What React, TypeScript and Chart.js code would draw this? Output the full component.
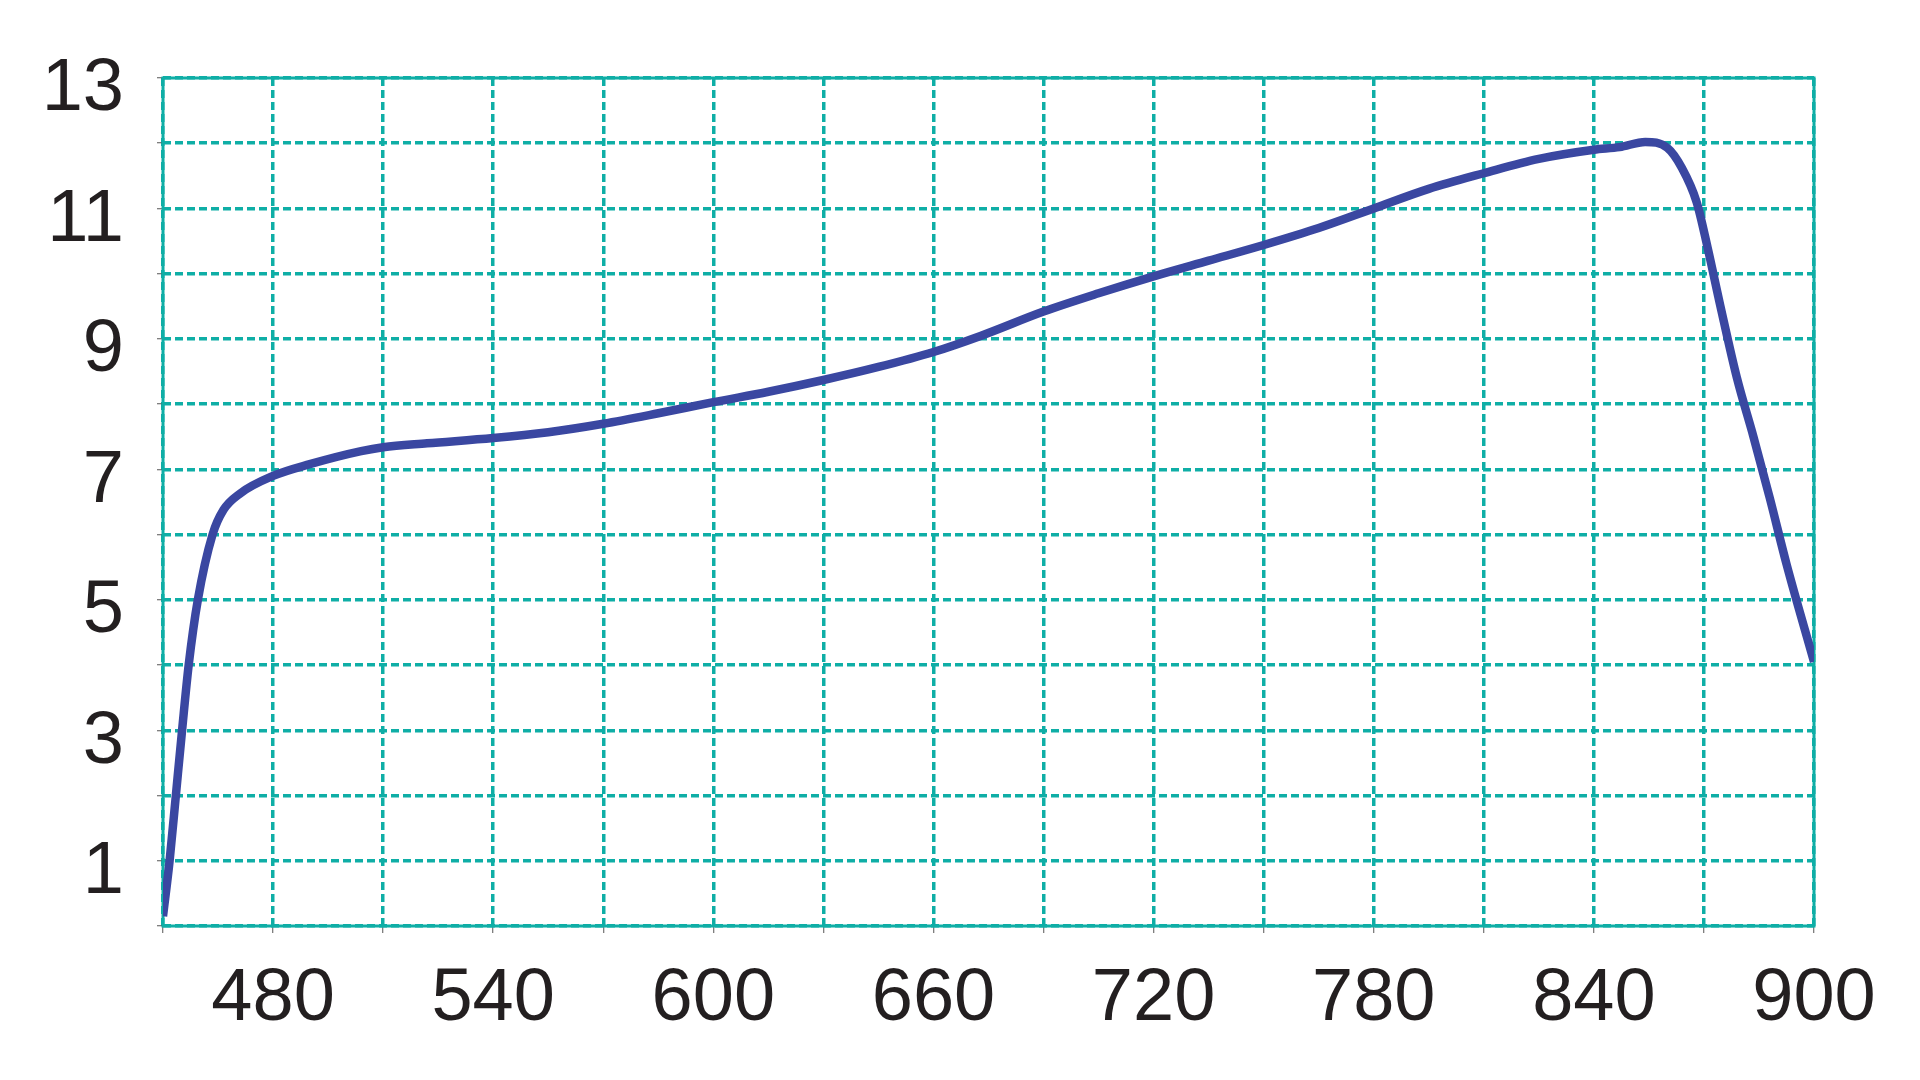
import React, { useEffect, useRef } from "react";
import { Chart, registerables } from "chart.js";

Chart.register(...registerables);

const wavelengths = [
  450, 451.8, 453.5, 455.2, 457, 459.5, 463.5, 466.5, 471, 480, 490, 504, 510, 522, 540, 555, 570, 585,
  600, 615, 630, 645, 660, 673, 690, 705, 720, 735, 750, 765, 780, 795, 810, 825, 840, 847, 854, 860,
  864, 868, 871, 874.5, 879, 883.5, 888, 892.5, 900,
];
const values = [
  0.15, 1, 2, 3, 4, 5, 6, 6.38, 6.63, 6.9, 7.08, 7.28, 7.34, 7.4, 7.48, 7.57, 7.7, 7.86,
  8.03, 8.19, 8.37, 8.57, 8.8, 9.05, 9.42, 9.7, 9.96, 10.2, 10.44, 10.7, 11.0, 11.3, 11.54, 11.76, 11.9, 11.94, 12.02, 11.93,
  11.62, 11.1, 10.4, 9.5, 8.4, 7.5, 6.55, 5.55, 4.05,
];
const xTickLabels = [480, 540, 600, 660, 720, 780, 840, 900];
const yTickLabels = [1, 3, 5, 7, 9, 11, 13];

const TEAL = "#0FAEA6";
const LINE = "#3A47A1";
const TEXT = "#231F20";

const frame = {
  id: "frame",
  beforeDatasetsDraw(chart: any) {
    const { ctx, chartArea } = chart;
    ctx.save();
    ctx.strokeStyle = TEAL;
    ctx.lineWidth = 3;
    ctx.setLineDash([]);
    ctx.strokeRect(chartArea.left, chartArea.top, chartArea.right - chartArea.left, chartArea.bottom - chartArea.top);
    ctx.restore();
  },
};

export default function App() {
  const ref = useRef<HTMLCanvasElement>(null);
  useEffect(() => {
    if (!ref.current) return;
    const font = { family: "'Liberation Sans', Arial, sans-serif", size: 74 };
    const chart = new Chart(ref.current, {
      type: "line",
      data: {
        datasets: [
          {
            data: wavelengths.map((x, i) => ({ x, y: values[i] })),
            borderColor: LINE,
            borderWidth: 8.5,
            pointRadius: 0,
            cubicInterpolationMode: "monotone",
            fill: false,
          },
        ],
      },
      options: {
        responsive: false,
        animation: false,
        devicePixelRatio: 1,
        layout: { padding: { top: 78, right: 106, left: 0, bottom: 0 } },
        plugins: { legend: { display: false }, tooltip: { enabled: false } },
        scales: {
          x: {
            type: "linear",
            min: 450,
            max: 900,
            afterFit: (s: any) => {
              s.height = 154;
            },
            ticks: {
              stepSize: 30,
              autoSkip: false,
              maxRotation: 0,
              padding: 22,
              color: TEXT,
              font,
              callback: (v: any) => (xTickLabels.includes(Number(v)) ? String(v) : ""),
            },
            grid: {
              color: TEAL,
              lineWidth: 3.5,
              drawTicks: true,
              tickLength: 7,
              tickColor: "#555",
              tickWidth: 1,
              tickBorderDash: [],
            },
            border: { display: false, dash: [8, 4] },
          },
          y: {
            type: "linear",
            min: 0,
            max: 13,
            afterFit: (s: any) => {
              s.width = 163;
            },
            ticks: {
              stepSize: 1,
              autoSkip: false,
              padding: 33,
              labelOffset: 12,
              color: TEXT,
              font,
              callback: (v: any) => (yTickLabels.includes(Number(v)) ? String(v) : ""),
            },
            grid: {
              color: TEAL,
              lineWidth: 3.5,
              drawTicks: true,
              tickLength: 6,
              tickColor: "#555",
              tickWidth: 1,
              tickBorderDash: [],
            },
            border: { display: false, dash: [8, 4] },
          },
        },
      },
      plugins: [frame],
    } as any);
    return () => chart.destroy();
  }, []);
  return (
    <div style={{ position: "absolute", left: 0, top: 0, width: 1920, height: 1080, background: "#fff" }}>
      <canvas ref={ref} width={1920} height={1080} style={{ display: "block" }} />
    </div>
  );
}
